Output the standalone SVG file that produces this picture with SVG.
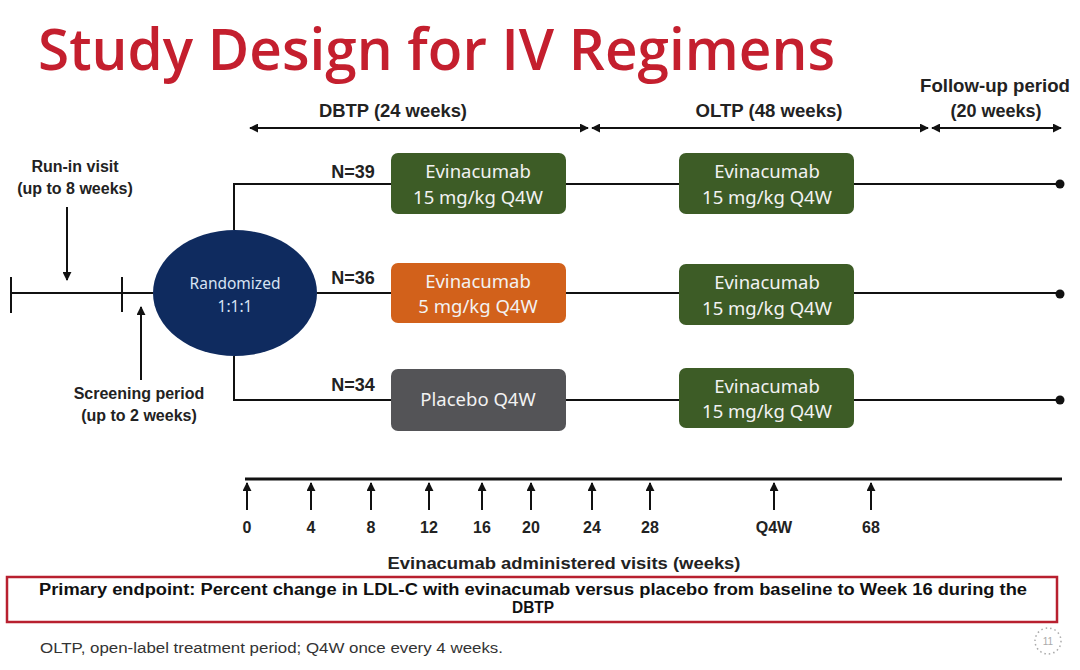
<svg xmlns="http://www.w3.org/2000/svg" width="1080" height="670" viewBox="0 0 1080 670">
<defs>
<marker id="ah" viewBox="0 0 10 10" refX="9" refY="5" markerWidth="9" markerHeight="9" markerUnits="userSpaceOnUse" orient="auto-start-reverse"><path d="M0,0 L10,5 L0,10 z" fill="#111"/></marker>
<style>
.ln{stroke:#111;stroke-width:2;fill:none}
.ax{stroke:#111;stroke-width:3;fill:none}
.lbl{font-family:"Liberation Sans",Arial,sans-serif;font-weight:bold;font-size:16px;fill:#222;text-anchor:middle}
.top{font-size:18px}
.bx{font-family:"Noto Sans","Open Sans",sans-serif;font-size:18.5px;fill:#f2f2f2;text-anchor:middle}
.tk{font-family:"Liberation Sans",Arial,sans-serif;font-weight:bold;font-size:16px;fill:#222;text-anchor:middle}
</style>
</defs>
<rect width="1080" height="670" fill="#ffffff"/>
<text x="38" y="70" font-family="Open Sans,Noto Sans,sans-serif" font-weight="600" font-size="58" fill="#c41f2e" textLength="797" lengthAdjust="spacingAndGlyphs">Study Design for IV Regimens</text>

<g id="connectors">
<line class="ln" x1="10" y1="293" x2="153" y2="293"/>
<line class="ln" x1="11" y1="277" x2="11" y2="313"/>
<line class="ln" x1="122" y1="277" x2="122" y2="312"/>
<line class="ln" x1="67" y1="207" x2="67" y2="280" marker-end="url(#ah)"/>
<line class="ln" x1="141" y1="380" x2="141" y2="307" marker-end="url(#ah)"/>
<polyline class="ln" points="234,230 234,184 1060,184"/>
<line class="ln" x1="317" y1="293" x2="1060" y2="293"/>
<polyline class="ln" points="234,356 234,400 1060,400"/>
<circle cx="1060" cy="184" r="4.5" fill="#111"/>
<circle cx="1060" cy="294" r="4.5" fill="#111"/>
<circle cx="1060" cy="400" r="4.5" fill="#111"/>
<line class="ln" x1="250" y1="128" x2="588" y2="128" marker-start="url(#ah)" marker-end="url(#ah)"/>
<line class="ln" x1="592" y1="128" x2="928" y2="128" marker-start="url(#ah)" marker-end="url(#ah)"/>
<line class="ln" x1="932" y1="128" x2="1061" y2="128" marker-start="url(#ah)" marker-end="url(#ah)"/>
<line class="ax" x1="245" y1="479" x2="1062" y2="479"/>
<g>
<line class="ln" x1="247" y1="510" x2="247" y2="483" marker-end="url(#ah)"/>
<line class="ln" x1="311" y1="510" x2="311" y2="483" marker-end="url(#ah)"/>
<line class="ln" x1="371" y1="510" x2="371" y2="483" marker-end="url(#ah)"/>
<line class="ln" x1="429" y1="510" x2="429" y2="483" marker-end="url(#ah)"/>
<line class="ln" x1="482" y1="510" x2="482" y2="483" marker-end="url(#ah)"/>
<line class="ln" x1="531" y1="510" x2="531" y2="483" marker-end="url(#ah)"/>
<line class="ln" x1="592" y1="510" x2="592" y2="483" marker-end="url(#ah)"/>
<line class="ln" x1="650" y1="510" x2="650" y2="483" marker-end="url(#ah)"/>
<line class="ln" x1="774" y1="510" x2="774" y2="483" marker-end="url(#ah)"/>
<line class="ln" x1="871" y1="510" x2="871" y2="483" marker-end="url(#ah)"/>
</g>
</g>

<g id="labels">
<text class="lbl" x="75" y="172">Run-in visit</text>
<text class="lbl" x="75" y="194">(up to 8 weeks)</text>
<text class="lbl" x="139" y="399">Screening period</text>
<text class="lbl" x="139" y="421">(up to 2 weeks)</text>
<text class="lbl top" x="393" y="117" textLength="148" lengthAdjust="spacingAndGlyphs">DBTP (24 weeks)</text>
<text class="lbl top" x="769" y="117" textLength="147" lengthAdjust="spacingAndGlyphs">OLTP (48 weeks)</text>
<text class="lbl top" x="995" y="92" textLength="150" lengthAdjust="spacingAndGlyphs">Follow-up period</text>
<text class="lbl top" x="996" y="117">(20 weeks)</text>
<text class="lbl top" x="353" y="178">N=39</text>
<text class="lbl top" x="353" y="284">N=36</text>
<text class="lbl top" x="353" y="391">N=34</text>
<text class="tk" x="247" y="533">0</text>
<text class="tk" x="311" y="533">4</text>
<text class="tk" x="371" y="533">8</text>
<text class="tk" x="429" y="533">12</text>
<text class="tk" x="482" y="533">16</text>
<text class="tk" x="531" y="533">20</text>
<text class="tk" x="592" y="533">24</text>
<text class="tk" x="650" y="533">28</text>
<text class="tk" x="774" y="533">Q4W</text>
<text class="tk" x="871" y="533">68</text>
<text class="lbl" x="564" y="569" font-size="19" textLength="353" lengthAdjust="spacingAndGlyphs">Evinacumab administered visits (weeks)</text>
</g>

<g id="randomized">
<ellipse cx="235" cy="293" rx="82" ry="63" fill="#0f2b5f"/>
<text x="235" y="289" font-family="Noto Sans,Open Sans,sans-serif" font-size="15.5" fill="#d7e3f3" text-anchor="middle">Randomized</text>
<text x="235" y="312" font-family="Noto Sans,Open Sans,sans-serif" font-size="15.5" fill="#d7e3f3" text-anchor="middle">1:1:1</text>
</g>

<g id="box-a1"><rect x="391" y="153" width="175" height="61" rx="7" fill="#3d5c26"/><text class="bx" x="478" y="178">Evinacumab</text><text class="bx" x="478" y="204">15 mg/kg Q4W</text></g>
<g id="box-a2"><rect x="679" y="153" width="175" height="61" rx="7" fill="#3d5c26"/><text class="bx" x="767" y="178">Evinacumab</text><text class="bx" x="767" y="204">15 mg/kg Q4W</text></g>
<g id="box-b1"><rect x="391" y="263" width="175" height="60" rx="7" fill="#d2611b"/><text class="bx" x="478" y="288">Evinacumab</text><text class="bx" x="478" y="313">5 mg/kg Q4W</text></g>
<g id="box-b2"><rect x="679" y="264" width="175" height="61" rx="7" fill="#3d5c26"/><text class="bx" x="767" y="289">Evinacumab</text><text class="bx" x="767" y="315">15 mg/kg Q4W</text></g>
<g id="box-c1"><rect x="391" y="369" width="175" height="62" rx="7" fill="#545457"/><text class="bx" x="478" y="406">Placebo Q4W</text></g>
<g id="box-c2"><rect x="679" y="368" width="175" height="60" rx="7" fill="#3d5c26"/><text class="bx" x="767" y="393">Evinacumab</text><text class="bx" x="767" y="418">15 mg/kg Q4W</text></g>

<g id="endpoint">
<rect x="7" y="577" width="1050" height="45" fill="#ffffff" stroke="#b8202f" stroke-width="2.5"/>
<text x="533" y="595" font-family="Liberation Sans,Arial,sans-serif" font-weight="bold" font-size="16" fill="#111" text-anchor="middle" textLength="988" lengthAdjust="spacingAndGlyphs">Primary endpoint: Percent change in LDL-C with evinacumab versus placebo from baseline to Week 16 during the</text>
<text x="533" y="613" font-family="Liberation Sans,Arial,sans-serif" font-weight="bold" font-size="16" fill="#111" text-anchor="middle" textLength="42" lengthAdjust="spacingAndGlyphs">DBTP</text>
</g>

<text x="40" y="653" font-family="Liberation Sans,Arial,sans-serif" font-size="14" fill="#333" textLength="463" lengthAdjust="spacingAndGlyphs">OLTP, open-label treatment period; Q4W once every 4 weeks.</text>
<g id="page">
<circle cx="1048" cy="641" r="13" fill="none" stroke="#aaa" stroke-width="1.5" stroke-dasharray="1.5 3"/>
<text x="1048" y="645" font-family="Liberation Sans,Arial,sans-serif" font-size="10" fill="#aaa" text-anchor="middle">11</text>
</g>
</svg>
